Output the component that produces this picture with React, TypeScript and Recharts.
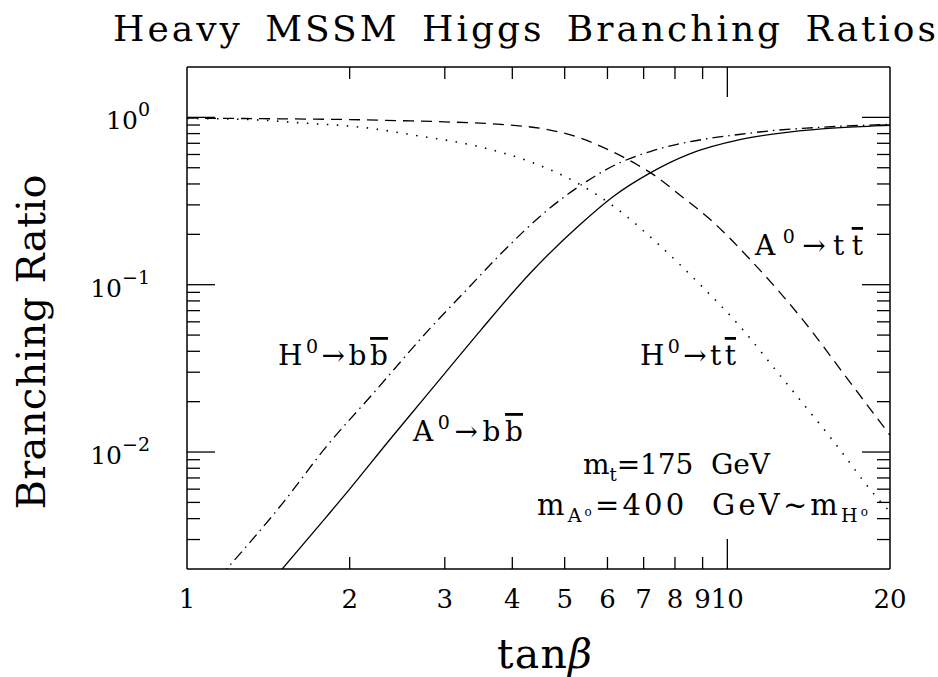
import React from "react";
import { LineChart, Line, XAxis, YAxis } from "recharts";

const W = 938;
const H = 677;
const FONT = "'DejaVu Serif', 'Liberation Serif', serif";

// axis ticks
const xTicks = [1, 2, 3, 4, 5, 6, 7, 8, 9, 10, 20];
const xLong = [10];
const yTicks = [
  0.002, 0.003, 0.004, 0.005, 0.006, 0.007, 0.008, 0.009, 0.01,
  0.02, 0.03, 0.04, 0.05, 0.06, 0.07, 0.08, 0.09, 0.1,
  0.2, 0.3, 0.4, 0.5, 0.6, 0.7, 0.8, 0.9, 1, 2,
];
const yLong = [0.01, 0.1, 1];
const yExp = ["0", "\u22121", "\u22122"]; // for 1, 0.1, 0.01

// H0 -> b bbar (dash-dot)
const hbbX = [1.15, 1.5, 1.82, 2.2, 2.82, 3.3, 3.77, 4.7, 5.5, 6.2, 7.2, 8.0, 9.17, 10.5, 12.2, 14, 16.2, 18, 20];
const hbbY = [0.0018, 0.0049, 0.011, 0.022, 0.055, 0.094, 0.148, 0.288, 0.416, 0.52, 0.625, 0.685, 0.745, 0.79, 0.835, 0.862, 0.885, 0.898, 0.908];

// A0 -> b bbar (solid)
const abbX = [1.48, 1.8, 2.0, 2.37, 2.7, 3.0, 3.51, 4.32, 5.34, 6.16, 7.2, 8.52, 10.6, 13, 16.2, 20];
const abbY = [0.0019, 0.004, 0.006, 0.0118, 0.0196, 0.0295, 0.0543, 0.1175, 0.229, 0.338, 0.466, 0.605, 0.738, 0.817, 0.868, 0.896];

// A0 -> t tbar (dashed)
const attX = [1, 1.5, 2, 2.5, 3, 3.81, 4.63, 5.3, 5.82, 6.8, 7.37, 8.2, 9.3, 11.03, 13.65, 17.04, 20];
const attY = [0.99, 0.98, 0.97, 0.955, 0.94, 0.908, 0.848, 0.76, 0.673, 0.523, 0.445, 0.34, 0.245, 0.141, 0.0643, 0.025, 0.0126];

// H0 -> t tbar (dotted)
const httX = [1, 1.31, 1.6, 2.12, 2.7, 3.44, 4.37, 5.27, 6.16, 7.46, 8.91, 10.57, 12.38, 15.65, 19.37, 20];
const httY = [0.985, 0.97, 0.93, 0.87, 0.773, 0.673, 0.535, 0.406, 0.294, 0.174, 0.1, 0.056, 0.03, 0.0118, 0.0049, 0.0044];

const rows = (xs: number[], ys: number[]) => xs.map((t, i) => ({ t, br: ys[i] }));

const ink = "#000";

const BottomTick = (p: any) => {
  const v = p.payload.value;
  const len = xLong.includes(v) ? 30 : 12;
  return (
    <g>
      {v !== 1 && v !== 20 && (
        <line x1={p.x} x2={p.x} y1={p.y} y2={p.y - len} stroke={ink} strokeWidth={1.3} />
      )}
      <text x={p.x} y={p.y + 39} textAnchor="middle" fontSize={26} fontFamily={FONT} fill={ink}>
        {v}
      </text>
    </g>
  );
};

const TopTick = (p: any) => {
  const v = p.payload.value;
  const len = xLong.includes(v) ? 30 : 12;
  if (v === 1 || v === 20) return <g />;
  return <line x1={p.x} x2={p.x} y1={p.y} y2={p.y + len} stroke={ink} strokeWidth={1.3} />;
};

const LeftTick = (p: any) => {
  const v = p.payload.value;
  const k = yLong.indexOf(v);
  const len = k >= 0 ? 28 : 13;
  return (
    <g>
      {v !== 2 && v !== 0.002 && (
        <line x1={p.x} x2={p.x + len} y1={p.y} y2={p.y} stroke={ink} strokeWidth={1.3} />
      )}
      {k >= 0 && (
        <text x={p.x - 37} y={p.y + 12} textAnchor="end" fontFamily={FONT} fill={ink} fontSize={25}>
          10<tspan dy={-13} fontSize={19}>{yExp[2 - k]}</tspan>
        </text>
      )}
    </g>
  );
};

const RightTick = (p: any) => {
  const v = p.payload.value;
  const len = yLong.includes(v) ? 28 : 13;
  if (v === 2 || v === 0.002) return <g />;
  return <line x1={p.x} x2={p.x - len} y1={p.y} y2={p.y} stroke={ink} strokeWidth={1.3} />;
};

const bar = { textDecoration: "overline" } as React.CSSProperties;

export default function App() {
  const axisLine = { stroke: ink, strokeWidth: 1.5 };
  return (
    <div style={{ position: "absolute", left: 0, top: 0, width: W, height: H, background: "#fff" }}>
      <LineChart width={W} height={H} margin={{ top: 66, right: 47, bottom: 107, left: 186 }}>
        <XAxis
          xAxisId={0}
          dataKey="t"
          type="number"
          scale="log"
          domain={[1, 20]}
          ticks={xTicks}
          interval={0}
          height={1}
          tickSize={0}
          tickMargin={0}
          tickLine={false}
          axisLine={axisLine}
          tick={BottomTick}
          allowDataOverflow
        />
        <XAxis
          xAxisId="top"
          orientation="top"
          dataKey="t"
          type="number"
          scale="log"
          domain={[1, 20]}
          ticks={xTicks}
          interval={0}
          height={1}
          tickSize={0}
          tickMargin={0}
          tickLine={false}
          axisLine={axisLine}
          tick={TopTick}
          allowDataOverflow
        />
        <YAxis
          yAxisId={0}
          type="number"
          scale="log"
          domain={[0.002, 2]}
          ticks={yTicks}
          interval={0}
          width={1}
          tickSize={0}
          tickMargin={0}
          tickLine={false}
          axisLine={axisLine}
          tick={LeftTick}
          allowDataOverflow
        />
        <YAxis
          yAxisId="right"
          orientation="right"
          type="number"
          scale="log"
          domain={[0.002, 2]}
          ticks={yTicks}
          interval={0}
          width={1}
          tickSize={0}
          tickMargin={0}
          tickLine={false}
          axisLine={axisLine}
          tick={RightTick}
          allowDataOverflow
        />
        <Line data={rows(hbbX, hbbY)} dataKey="br" type="monotone" stroke={ink} strokeWidth={1.3}
          strokeDasharray="11 5 1.5 5" dot={false} isAnimationActive={false} />
        <Line data={rows(abbX, abbY)} dataKey="br" type="monotone" stroke={ink} strokeWidth={1.3}
          dot={false} isAnimationActive={false} />
        <Line data={rows(attX, attY)} dataKey="br" type="monotone" stroke={ink} strokeWidth={1.3}
          strokeDasharray="11 7" dot={false} isAnimationActive={false} />
        <Line data={rows(httX, httY)} dataKey="br" type="monotone" stroke={ink} strokeWidth={1.6}
          strokeDasharray="1.5 8.5" dot={false} isAnimationActive={false} />
      </LineChart>

      <svg width={W} height={H} style={{ position: "absolute", left: 0, top: 0, pointerEvents: "none" }}
        fontFamily={FONT} fill={ink}>
        <text x={113} y={41} fontSize={36} wordSpacing={8} textLength={823} lengthAdjust="spacing">
          Heavy MSSM Higgs Branching Ratios
        </text>
        <text x={497} y={668} fontSize={41} textLength={95} lengthAdjust="spacing">
          tan<tspan fontStyle="italic">β</tspan>
        </text>
        <text transform="translate(45,342) rotate(-90)" fontSize={40} textAnchor="middle"
          textLength={335} lengthAdjust="spacing">
          Branching Ratio
        </text>

        <text x={278} y={365} fontSize={28} textLength={110} lengthAdjust="spacing">
          H<tspan dy={-12} fontSize={19}>0</tspan><tspan dy={12}>→b</tspan><tspan style={bar}>b</tspan>
        </text>
        <text x={413} y={441} fontSize={28} textLength={110} lengthAdjust="spacing">
          A<tspan dy={-12} fontSize={19}>0</tspan><tspan dy={12}>→b</tspan><tspan style={bar}>b</tspan>
        </text>
        <text x={640} y={365} fontSize={28} textLength={96} lengthAdjust="spacing">
          H<tspan dy={-12} fontSize={19}>0</tspan><tspan dy={12}>→t</tspan><tspan style={bar}>t</tspan>
        </text>
        <text x={755} y={255} fontSize={28} textLength={108} lengthAdjust="spacing">
          A<tspan dy={-12} fontSize={19}>0</tspan><tspan dy={12}>→t</tspan><tspan style={bar}>t</tspan>
        </text>

        <text x={583} y={474} fontSize={28} xmlSpace="preserve" textLength={187} lengthAdjust="spacing">
          m<tspan dy={7} fontSize={18}>t</tspan><tspan dy={-7}>=175  GeV</tspan>
        </text>
        <text x={537} y={515} fontSize={29} xmlSpace="preserve" textLength={331} lengthAdjust="spacing">
          m<tspan dy={7} fontSize={19}>A</tspan><tspan dy={-6} fontSize={12}>o</tspan><tspan dy={-1}>=400  GeV~m</tspan><tspan dy={7} fontSize={19}>H</tspan><tspan dy={-6} fontSize={12}>o</tspan>
        </text>
      </svg>
    </div>
  );
}
